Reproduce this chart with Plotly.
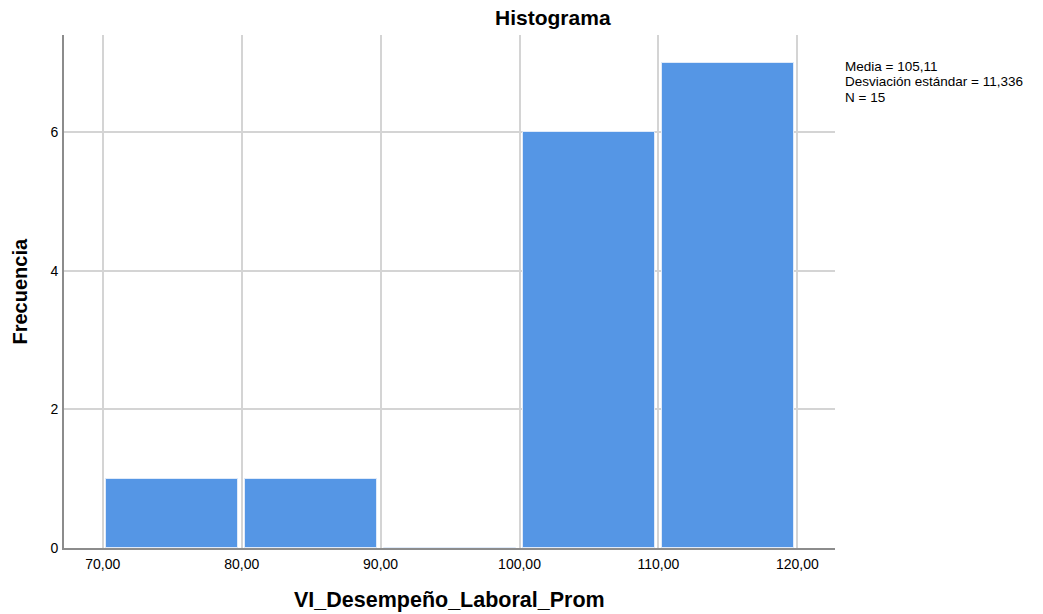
import plotly.graph_objects as go

# Histogram bins of VI_Desempeño_Laboral_Prom (bin width 10)
bin_starts = [70, 80, 90, 100, 110]
bin_counts = [1, 1, 0, 6, 7]
bin_width = 10

x_ticks = [70, 80, 90, 100, 110, 120]
x_tick_labels = ["70,00", "80,00", "90,00", "100,00", "110,00", "120,00"]
y_ticks = [0, 2, 4, 6]

stats_lines = ["Media = 105,11", "Desviación estándar = 11,336", "N = 15"]

FONT = "Liberation Sans, Arial, sans-serif"
BAR_COLOR = "#5596e5"
GRID = "#d4d4d4"
AXIS = "#8c8c8c"

centers = [s + bin_width / 2 for s in bin_starts]

fig = go.Figure()
fig.add_trace(go.Bar(
    x=centers,
    y=bin_counts,
    width=[bin_width * 0.947] * len(centers),
    marker=dict(color=BAR_COLOR, line=dict(color="#dfeaf9", width=1)),
    hoverinfo="x+y",
    showlegend=False,
))

fig.update_layout(
    width=1043,
    height=614,
    margin=dict(l=64, r=208, t=35, b=66),
    paper_bgcolor="white",
    plot_bgcolor="white",
    font=dict(family=FONT, color="#000000", size=14),
    title=dict(
        text="<b>Histograma</b>",
        font=dict(family=FONT, size=21, color="#000000"),
        xref="paper", x=0.634, xanchor="center",
        yref="container", y=1 - 18 / 614, yanchor="middle",
    ),
    bargap=0,
)

fig.update_xaxes(
    range=[67.21, 122.71],
    tickmode="array",
    tickvals=x_ticks,
    ticktext=x_tick_labels,
    showgrid=True,
    gridcolor=GRID,
    gridwidth=2,
    zeroline=False,
    showline=True,
    linecolor=AXIS,
    linewidth=2,
    ticks="outside",
    ticklen=2,
    tickcolor="rgba(0,0,0,0)",
    tickfont=dict(size=14, family=FONT, color="#000000"),
)
fig.update_yaxes(
    range=[0, 7.40],
    tickmode="array",
    tickvals=y_ticks,
    showgrid=True,
    gridcolor=GRID,
    gridwidth=2,
    zeroline=False,
    showline=True,
    linecolor=AXIS,
    linewidth=2,
    ticks="outside",
    ticklen=1,
    tickcolor="rgba(0,0,0,0)",
    tickfont=dict(size=14, family=FONT, color="#000000"),
)

# Axis titles
fig.add_annotation(
    text="<b>VI_Desempeño_Laboral_Prom</b>",
    xref="paper", yref="paper", x=0.5, y=(548 - 600) / 513,
    xanchor="center", yanchor="middle", showarrow=False,
    font=dict(family=FONT, size=21.5, color="#000000"),
)
fig.add_annotation(
    text="<b>Frecuencia</b>",
    xref="paper", yref="paper", x=(19 - 64) / 771, y=0.5,
    xanchor="center", yanchor="middle", textangle=-90, showarrow=False,
    font=dict(family=FONT, size=20, color="#000000"),
)

# Summary statistics block
line_centers_px = [66, 81.5, 97]
for txt, ypx in zip(stats_lines, line_centers_px):
    fig.add_annotation(
        text=txt,
        xref="paper", yref="paper",
        x=(844 - 64) / 771, y=(548 - ypx) / 513,
        xanchor="left", yanchor="middle", showarrow=False,
        borderpad=0,
        font=dict(family=FONT, size=13.5, color="#000000"),
    )

fig.write_html("out.html")
